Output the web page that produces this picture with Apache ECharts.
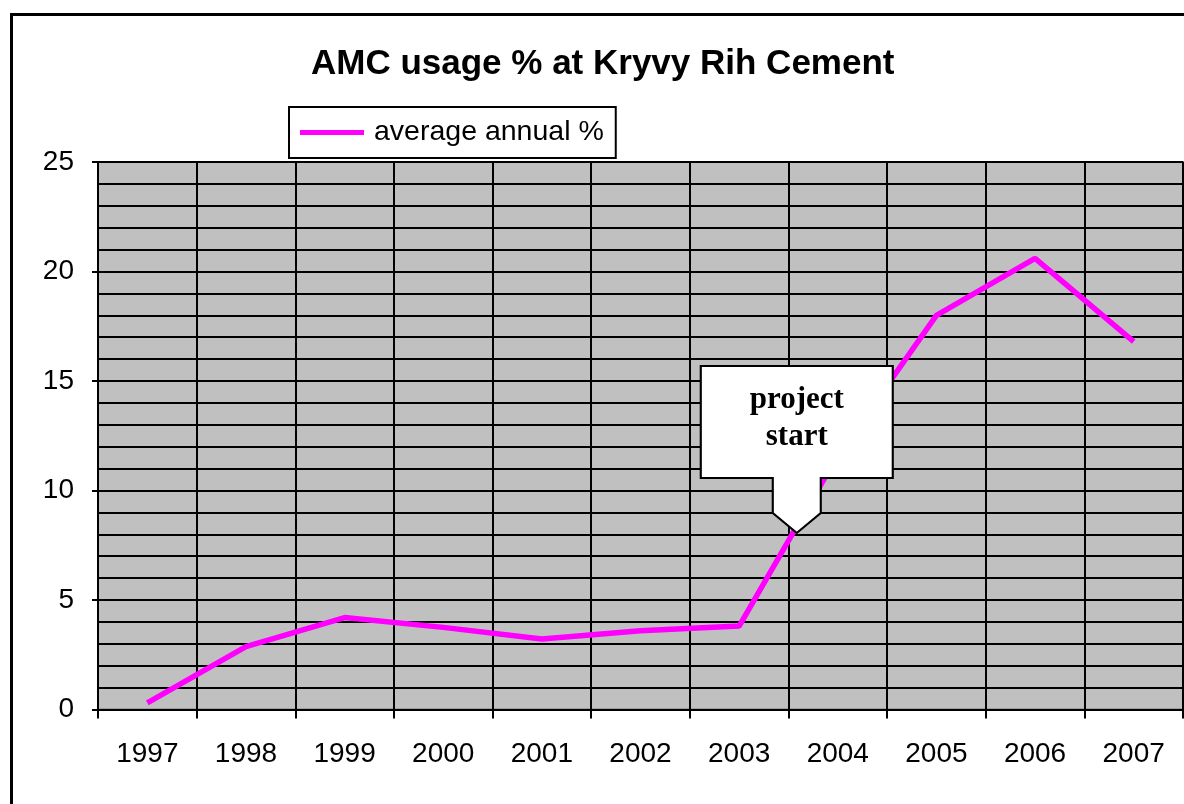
<!DOCTYPE html>
<html>
<head>
<meta charset="utf-8">
<script src="https://cdn.jsdelivr.net/npm/echarts@6/dist/echarts.min.js"></script>
<style>
  html, body { margin: 0; padding: 0; background: #ffffff; }
  #chart { width: 1184px; height: 804px; }
</style>
</head>
<body>
<div id="chart"></div>
<script>
// ---- data ----
const titleText = 'AMC usage % at Kryvy Rih Cement';
const seriesName = 'average annual %';
const years = ['1997', '1998', '1999', '2000', '2001', '2002', '2003', '2004', '2005', '2006', '2007'];
const usage = [0.3, 2.87, 4.2, 3.75, 3.22, 3.6, 3.81, 11.6, 18.0, 20.6, 16.8];
const yTicks = [0, 5, 10, 15, 20, 25];
const calloutText = 'project\nstart';
const calloutCategory = '2004';
const calloutValue = 8.06;

const chart = echarts.init(document.getElementById('chart'), null, { renderer: 'canvas' });

const sans = '"Liberation Sans", Arial, sans-serif';
const serif = '"Liberation Serif", "Times New Roman", serif';

const option = {
  backgroundColor: '#ffffff',
  animation: false,
  title: {
    text: titleText,
    left: 306,
    top: 42,
    textStyle: { fontFamily: sans, fontSize: 35, fontWeight: 'bold', color: '#000000' }
  },
  legend: {
    data: [seriesName],
    left: 289,
    top: 107,
    selectedMode: false,
    icon: 'rect',
    itemWidth: 64,
    itemHeight: 5,
    padding: [11, 12, 11, 11],
    borderColor: '#000000',
    borderWidth: 2,
    backgroundColor: '#ffffff',
    textStyle: { fontFamily: sans, fontSize: 28.5, color: '#000000', padding: [0, 0, 0, 5] }
  },
  grid: {
    left: 98,
    right: 1,
    top: 162,
    bottom: 94.5,
    show: true,
    backgroundColor: '#C0C0C0',
    borderColor: '#808080',
    borderWidth: 2
  },
  xAxis: {
    type: 'category',
    data: years,
    boundaryGap: true,
    axisLine: { show: true, lineStyle: { color: '#000000', width: 2 } },
    axisTick: { show: true, alignWithLabel: false, length: 9, lineStyle: { color: '#000000', width: 2 } },
    axisLabel: { fontFamily: sans, fontSize: 28, color: '#000000', margin: 31 },
    splitLine: { show: true, lineStyle: { color: '#000000', width: 2 } }
  },
  yAxis: {
    type: 'value',
    min: yTicks[0],
    max: yTicks[yTicks.length - 1],
    interval: yTicks[1] - yTicks[0],
    axisLine: { show: true, lineStyle: { color: '#000000', width: 2 } },
    axisTick: { show: true, length: 6, lineStyle: { color: '#000000', width: 2 } },
    axisLabel: { fontFamily: sans, fontSize: 28, color: '#000000', margin: 24 },
    splitLine: { show: true, lineStyle: { color: '#000000', width: 2 } },
    minorTick: { show: false, splitNumber: 5 },
    minorSplitLine: { show: true, lineStyle: { color: '#000000', width: 2 } }
  },
  series: [{
    name: seriesName,
    type: 'line',
    data: usage,
    symbol: 'none',
    showSymbol: false,
    lineStyle: { color: '#FF00FF', width: 5.5 },
    itemStyle: { color: '#FF00FF' },
    z: 3,
    markPoint: {
      silent: true,
      z: 10,
      data: [{
        coord: [calloutCategory, calloutValue],
        symbol: 'path://M0,0 L192,0 L192,112 L120,112 L120,147 L96,167 L72,147 L72,112 L0,112 Z',
        symbolSize: [192, 167],
        symbolKeepAspect: false,
        symbolOffset: [-41, -83.5],
        itemStyle: { color: '#ffffff', borderColor: '#000000', borderWidth: 2 },
        label: {
          show: true,
          position: 'inside',
          offset: [0, -31],
          formatter: calloutText,
          fontFamily: serif,
          fontSize: 31,
          fontWeight: 'bold',
          lineHeight: 37,
          color: '#000000',
          align: 'center'
        }
      }]
    }
  }],
  graphic: [{
    type: 'rect',
    z: 100,
    silent: true,
    shape: { x: 11.5, y: 14.5, width: 1250, height: 900 },
    style: { fill: 'none', stroke: '#000000', lineWidth: 3 }
  }]
};

chart.setOption(option);
</script>
</body>
</html>
